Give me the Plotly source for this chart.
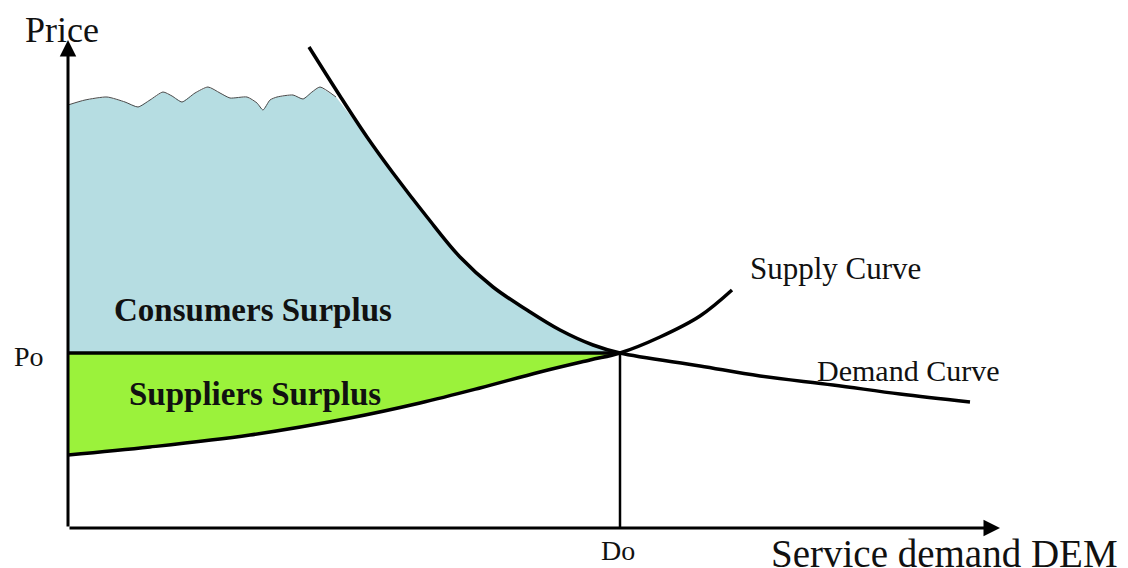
import plotly.graph_objects as go

# quantity / price (origin at the axes corner)
demand_q = [241, 272, 299, 325, 359, 392, 425, 459, 492, 525, 552, 632, 692, 765, 832, 902]
demand_p = [481, 432, 391, 355, 311, 271, 241, 218, 198, 183, 175, 162, 152, 143, 134, 126]

supply_q = [0, 82, 182, 282, 352, 412, 472, 522, 552, 592, 632, 664]
supply_p = [73, 81, 93, 110, 125, 140, 156, 168, 175, 191, 212, 238]

# ragged top edge of the consumer surplus area
top_q = [0, 17, 39, 57, 70, 82, 95, 104, 114, 127, 140, 152, 162, 179, 189, 195,
         202, 209, 225, 235, 244, 252, 268]
top_p = [423, 428, 431, 426, 421, 428, 436, 432, 426, 435, 441, 435, 430, 431, 425, 418,
         428, 431, 433, 429, 436, 441, 431]

q_eq = 552   # Do
p_eq = 175   # Po
q_max = 932  # x axis arrow tip
p_max = 488  # y axis arrow tip

blue = "#b6dde2"
green = "#9bf23b"
serif = "Liberation Serif"

fig = go.Figure()

# consumers surplus area
cs_q = [0, q_eq]
cs_p = [p_eq, p_eq]
for q, p in zip(demand_q[::-1], demand_p[::-1]):
    if q <= q_eq and p < top_p[-1]:
        cs_q.append(q)
        cs_p.append(p)
cs_q += top_q[::-1]
cs_p += top_p[::-1]
fig.add_trace(go.Scatter(x=cs_q, y=cs_p, fill="toself", fillcolor=blue,
                         mode="lines", line=dict(width=0), hoverinfo="skip"))

# suppliers surplus area
ss_q = [0, q_eq] + [q for q in supply_q[::-1] if q < q_eq]
ss_p = [p_eq, p_eq] + [p for q, p in zip(supply_q[::-1], supply_p[::-1]) if q < q_eq]
fig.add_trace(go.Scatter(x=ss_q, y=ss_p, fill="toself", fillcolor=green,
                         mode="lines", line=dict(width=0), hoverinfo="skip"))

# thin outline of the ragged top
fig.add_trace(go.Scatter(x=top_q, y=top_p, mode="lines",
                         line=dict(color="#4a4a4a", width=1, shape="spline", smoothing=0.6),
                         hoverinfo="skip"))

# Po and Do lines
fig.add_trace(go.Scatter(x=[0, q_eq], y=[p_eq, p_eq], mode="lines",
                         line=dict(color="black", width=3.5)))
fig.add_trace(go.Scatter(x=[q_eq, q_eq], y=[0, p_eq], mode="lines",
                         line=dict(color="black", width=2.5)))

# curves
fig.add_trace(go.Scatter(x=supply_q, y=supply_p, mode="lines",
                         line=dict(color="black", width=3.5, shape="spline")))
fig.add_trace(go.Scatter(x=demand_q, y=demand_p, mode="lines",
                         line=dict(color="black", width=3.5, shape="spline")))

# axes with arrows
for tip, base in [((0, p_max), (0, 0)), ((q_max, 0), (0, 0))]:
    fig.add_annotation(x=tip[0], y=tip[1], ax=base[0], ay=base[1],
                       xref="x", yref="y", axref="x", ayref="y",
                       showarrow=True, arrowhead=2, arrowsize=1.1,
                       arrowwidth=3, arrowcolor="black", text="")

labels = [
    ("Price", -6, 498, "center", 36, False),
    ("Po", -39, 172, "center", 28, False),
    ("Do", 550, -22, "center", 28, False),
    ("Service demand DEM", 701, -25, "left", 39, False),
    ("Consumers Surplus", 44, 218, "left", 33, True),
    ("Suppliers Surplus", 59, 134, "left", 33, True),
    ("Supply Curve", 680, 260, "left", 31, False),
    ("Demand Curve", 747, 158, "left", 30, False),
]
for text, q, p, anchor, size, bold in labels:
    fig.add_annotation(x=q, y=p, xref="x", yref="y", showarrow=False,
                       text="<b>%s</b>" % text if bold else text,
                       xanchor=anchor, yanchor="middle",
                       font=dict(family=serif, size=size, color="#111"))

# the page puts the figure 8 px in from the top-left corner
fig.update_layout(
    width=1120, height=560,
    margin=dict(l=0, r=0, t=0, b=0),
    paper_bgcolor="white", plot_bgcolor="white",
    showlegend=False,
    xaxis=dict(range=[-60, 1060], visible=False, fixedrange=True),
    yaxis=dict(range=[-40, 520], visible=False, fixedrange=True),
)

fig.write_html("out.html")
